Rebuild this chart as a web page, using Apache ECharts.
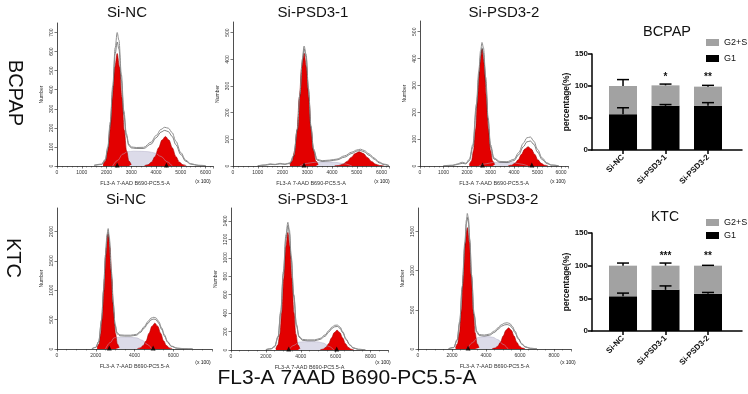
<!DOCTYPE html>
<html><head><meta charset="utf-8">
<script src="https://cdn.jsdelivr.net/npm/echarts@6/dist/echarts.min.js"></script>
<style>html,body{margin:0;padding:0;background:#fff}#c{width:748px;height:394px}</style>
</head><body><div id="c"></div>
<script>
// ---------- labels ----------
const colTitles = ['Si-NC', 'Si-PSD3-1', 'Si-PSD3-2'];
const rowTitles = ['BCPAP', 'KTC'];
const histXName = 'FL3-A 7-AAD B690-PC5.5-A';
const bottomTitle = 'FL3-A 7AAD B690-PC5.5-A';
const barCats = ['Si-NC', 'Si-PSD3-1', 'Si-PSD3-2'];

// ---------- BCPAP Si-NC ----------
const p1G1x = [1860,1960,2050,2145,2240,2335,2430,2525,2620,2715,2810,2905,3000];
const p1G1y = [6,26,80,189,360,519,590,519,360,189,80,26,6];
const p1G2x = [3540,3680,3820,3960,4100,4240,4380,4520,4660,4800,4940,5080,5220];
const p1G2y = [2,7,21,50,95,136,155,136,95,50,21,7,2];
const p1Sx = [2250,2450,2650,2850,3100,3400,3700,3950,4200,4450,4650];
const p1Sy = [0,30,62,75,78,77,75,68,50,22,0];
const p1Ex = [1500,1800,1950,2050,2150,2250,2350,2430,2500,2600,2700,2800,2900,3000,3200,3500,3800,4000,4200,4350,4500,4650,4800,5000,5200,5400,5700,6000];
const p1Ey = [4,10,35,100,230,420,620,700,660,480,290,170,115,100,97,98,125,160,192,203,198,175,130,70,30,12,4,2];
const p1E2y = [3,8,30,90,215,400,590,650,615,450,270,160,108,95,92,92,115,148,178,187,180,155,112,60,25,10,3,1];
const p1Tri = [2430, 4420];

// ---------- BCPAP Si-PSD3-1 ----------
const p2G1x = [2300,2395,2490,2585,2680,2775,2870,2965,3060,3155,3250,3345,3440];
const p2G1y = [5,19,57,135,258,372,423,372,258,135,57,19,5];
const p2G2x = [4110,4275,4440,4605,4770,4935,5100,5265,5430,5595,5760,5925,6090];
const p2G2y = [1,2,7,17,32,47,53,47,32,17,7,2,1];
const p2Sx = [2700,3000,3300,3600,3900,4200,4500,4800];
const p2Sy = [0,10,14,15,15,13,8,0];
const p2Ex = [1000,1300,1500,1700,1900,2100,2300,2450,2600,2700,2800,2870,2950,3050,3150,3250,3400,3600,3900,4200,4500,4800,5000,5150,5300,5500,5700,5900,6100,6300];
const p2Ey = [1,4,8,6,10,7,12,40,140,270,400,450,420,290,150,65,25,20,22,26,38,52,60,63,58,45,30,15,7,2];
const p2E2y = [1,3,6,5,8,6,10,35,135,262,390,440,410,280,142,60,22,17,19,23,33,47,56,58,53,40,26,12,5,1];
const p2Tri = [2870];

// ---------- BCPAP Si-PSD3-2 ----------
const p3G1x = [2100,2190,2280,2370,2460,2550,2640,2730,2820,2910,3000,3090,3180];
const p3G1y = [5,19,59,139,265,383,435,383,265,139,59,19,5];
const p3G2x = [3760,3900,4040,4180,4320,4460,4600,4740,4880,5020,5160,5300,5440];
const p3G2y = [1,3,10,23,44,63,72,63,44,23,10,3,1];
const p3Sx = [2500,2800,3100,3400,3700,4000,4300,4600];
const p3Sy = [0,8,13,14,14,12,7,0];
const p3Ex = [1000,1400,1600,1800,1950,2100,2250,2400,2500,2580,2640,2700,2800,2900,3000,3150,3400,3700,4000,4200,4400,4550,4700,4850,5000,5200,5400,5600,5900];
const p3Ey = [1,3,8,14,10,25,80,230,350,430,460,440,330,180,80,30,17,16,25,50,85,105,108,92,62,30,12,4,1];
const p3E2y = [1,2,6,10,8,20,70,215,330,410,440,420,312,168,72,26,14,13,20,42,72,90,93,80,52,24,9,3,1];
const p3Tri = [2660, 4760];

// ---------- KTC Si-NC ----------
const p4G1x = [2070,2165,2260,2355,2450,2545,2640,2735,2830,2925,3020,3115,3210];
const p4G1y = [22,86,265,627,1195,1725,1960,1725,1195,627,265,86,22];
const p4G2x = [4150,4300,4450,4600,4750,4900,5050,5200,5350,5500,5650,5800,5950];
const p4G2y = [5,19,59,141,268,387,440,387,268,141,59,19,5];
const p4Sx = [2500,2750,2950,3200,3500,3800,4100,4400,4650,4900];
const p4Sy = [0,110,190,200,200,198,190,150,80,0];
const p4Ex = [1800,2000,2150,2300,2400,2500,2580,2640,2700,2800,2900,3000,3100,3250,3500,3800,4100,4300,4500,4700,4850,5000,5100,5250,5400,5550,5700,5900,6200,6600,7000];
const p4Ey = [5,30,130,500,1000,1600,1950,2050,1900,1350,800,420,280,240,235,235,250,300,380,470,525,540,530,470,360,240,130,50,15,5,2];
const p4E2y = [4,26,120,480,970,1560,1900,2000,1850,1310,770,400,260,225,220,220,235,280,355,440,495,510,500,440,335,220,118,45,12,4,1];
const p4Tri = [2700, 4960];

// ---------- KTC Si-PSD3-1 ----------
const p5G1x = [2570,2685,2800,2915,3030,3145,3260,3375,3490,3605,3720,3835,3950];
const p5G1y = [14,56,172,408,778,1122,1275,1122,778,408,172,56,14];
const p5G2x = [5120,5280,5440,5600,5760,5920,6080,6240,6400,6560,6720,6880,7040];
const p5G2y = [2,9,29,69,131,189,215,189,131,69,29,9,2];
const p5Sx = [3300,3600,3900,4200,4600,5000,5300,5600,5900];
const p5Sy = [0,50,85,90,92,88,75,40,0];
const p5Ex = [2000,2300,2500,2700,2850,3000,3150,3260,3350,3450,3600,3750,3900,4100,4400,4800,5100,5400,5600,5800,5950,6100,6250,6400,6600,6800,7000,7300,7700];
const p5Ey = [5,15,40,150,420,850,1250,1385,1300,1020,600,280,150,115,110,110,125,165,210,250,268,270,250,200,120,60,25,8,2];
const p5E2y = [4,12,35,140,400,820,1210,1350,1265,990,580,265,140,105,100,100,115,150,195,235,252,255,236,188,112,55,22,7,2];
const p5Tri = [3310, 6060];

// ---------- KTC Si-PSD3-2 ----------
const p6G1x = [2210,2325,2440,2555,2670,2785,2900,3015,3130,3245,3360,3475,3590];
const p6G1y = [17,68,209,496,946,1364,1550,1364,946,496,209,68,17];
const p6G2x = [4370,4530,4690,4850,5010,5170,5330,5490,5650,5810,5970,6130,6290];
const p6G2y = [3,12,36,86,165,238,270,238,165,86,36,12,3];
const p6Sx = [2900,3200,3500,3800,4100,4400,4700,5000,5300];
const p6Sy = [0,80,145,155,158,150,120,60,0];
const p6Ex = [1800,2100,2300,2450,2600,2750,2850,2900,2960,3050,3150,3300,3450,3600,3900,4200,4500,4700,4900,5100,5250,5400,5550,5700,5900,6100,6300,6600,7000];
const p6Ey = [5,20,120,350,800,1350,1650,1730,1680,1400,950,450,230,185,178,190,230,270,310,330,335,325,290,230,140,70,30,10,2];
const p6E2y = [4,18,110,330,770,1300,1600,1680,1630,1360,920,430,215,172,165,176,212,250,290,308,312,302,268,210,128,62,26,8,2];
const p6Tri = [2950];

// ---------- bar charts (percentage) ----------
const bcG1 = [56, 69, 69];
const bcG2S = [44, 32, 30];
const bcG1Err = [10, 2, 5];
const bcTotErr = [10, 2, 2];
const bcSig = ['', '*', '**'];
const ktG1 = [53, 63, 57];
const ktG2S = [47, 37, 43];
const ktG1Err = [5, 6, 2];
const ktTotErr = [4, 4, 0.5];
const ktSig = ['', '***', '**'];

// ---------- build ----------
const FONT = '"Liberation Sans", Arial, Helvetica, sans-serif';
const zip = (xs, ys) => xs.map((x, i) => [x, ys[i]]);
const plain = v => String(v);

const panels = [
  {g1x:p1G1x,g1y:p1G1y,g2x:p1G2x,g2y:p1G2y,sx:p1Sx,sy:p1Sy,ex:p1Ex,ey:p1Ey,e2y:p1E2y,tri:p1Tri,
   xmax:6300,xint:1000,xmin:5,ymax:750,yint:100,grid:{left:57,top:23,width:156,height:143}},
  {g1x:p2G1x,g1y:p2G1y,g2x:p2G2x,g2y:p2G2y,sx:p2Sx,sy:p2Sy,ex:p2Ex,ey:p2Ey,e2y:p2E2y,tri:p2Tri,
   xmax:6300,xint:1000,xmin:5,ymax:540,yint:100,grid:{left:233,top:22,width:156,height:144}},
  {g1x:p3G1x,g1y:p3G1y,g2x:p3G2x,g2y:p3G2y,sx:p3Sx,sy:p3Sy,ex:p3Ex,ey:p3Ey,e2y:p3E2y,tri:p3Tri,
   xmax:6300,xint:1000,xmin:5,ymax:540,yint:100,grid:{left:420,top:21,width:148,height:145}},
  {g1x:p4G1x,g1y:p4G1y,g2x:p4G2x,g2y:p4G2y,sx:p4Sx,sy:p4Sy,ex:p4Ex,ey:p4Ey,e2y:p4E2y,tri:p4Tri,
   xmax:8000,xint:2000,xmin:4,ymax:2400,yint:500,grid:{left:57,top:208,width:155,height:141}},
  {g1x:p5G1x,g1y:p5G1y,g2x:p5G2x,g2y:p5G2y,sx:p5Sx,sy:p5Sy,ex:p5Ex,ey:p5Ey,e2y:p5E2y,tri:p5Tri,
   xmax:9000,xint:2000,xmin:4,ymax:1540,yint:200,grid:{left:231,top:208,width:157,height:142}},
  {g1x:p6G1x,g1y:p6G1y,g2x:p6G2x,g2y:p6G2y,sx:p6Sx,sy:p6Sy,ex:p6Ex,ey:p6Ey,e2y:p6E2y,tri:p6Tri,
   xmax:9000,xint:2000,xmin:4,ymax:1800,yint:500,grid:{left:418,top:208,width:153,height:141}}
];

const grids = [], xAxes = [], yAxes = [], series = [];
const RED = '#e30000';

panels.forEach((p, i) => {
  grids.push(p.grid);
  xAxes.push({
    gridIndex: i, type: 'value', min: 0, max: p.xmax, interval: p.xint,
    axisLine: {show: true, onZero: false, lineStyle: {color: '#222', width: 0.8}},
    axisTick: {show: true, length: 2.5, lineStyle: {color: '#222', width: 0.6}},
    minorTick: {show: true, splitNumber: p.xmin, length: 1.5, lineStyle: {color: '#333', width: 0.5}},
    axisLabel: {fontSize: 5, color: '#333', margin: 4, showMaxLabel: false, fontFamily: FONT, formatter: plain},
    splitLine: {show: false},
    name: histXName, nameLocation: 'middle', nameGap: 14,
    nameTextStyle: {fontSize: 5.5, color: '#333', fontFamily: FONT}
  });
  yAxes.push({
    gridIndex: i, type: 'value', min: 0, max: p.ymax, interval: p.yint,
    axisLine: {show: true, lineStyle: {color: '#222', width: 0.8}},
    axisTick: {show: true, length: 2.5, lineStyle: {color: '#222', width: 0.6}},
    axisLabel: {fontSize: 5, color: '#333', margin: 3, rotate: 90, showMaxLabel: false, fontFamily: FONT, formatter: plain},
    splitLine: {show: false},
    name: 'Number', nameLocation: 'middle', nameGap: 13,
    nameTextStyle: {fontSize: 5, color: '#333', fontFamily: FONT}
  });
  const base = {xAxisIndex: i, yAxisIndex: i, showSymbol: false, symbol: 'none', silent: true, smooth: 0.35, smoothMonotone: 'x'};
  series.push(Object.assign({type: 'line', data: zip(p.sx, p.sy),
    lineStyle: {color: '#b4b1c8', width: 0.5}, areaStyle: {color: '#dcdbe9', opacity: 1}}, base));
  series.push(Object.assign({type: 'line', data: zip(p.g1x, p.g1y),
    lineStyle: {color: '#a00000', width: 0.6}, areaStyle: {color: RED, opacity: 1}}, base));
  series.push(Object.assign({type: 'line', data: zip(p.g2x, p.g2y),
    lineStyle: {color: '#a00000', width: 0.6}, areaStyle: {color: RED, opacity: 1}}, base));
  series.push(Object.assign({type: 'line', data: zip(p.ex, p.e2y),
    lineStyle: {color: '#333', width: 0.6}}, base));
  series.push(Object.assign({type: 'line', data: zip(p.ex, p.ey),
    lineStyle: {color: '#8e8e8e', width: 1}}, base));
  series.push({type: 'scatter', xAxisIndex: i, yAxisIndex: i, silent: true, clip: false,
    symbol: 'triangle', symbolSize: [5, 5], symbolOffset: [0, -1],
    itemStyle: {color: '#000'}, data: p.tri.map(x => [x, 0]), z: 5});
});

// bar charts
const barSets = [
  {g1: bcG1, g2s: bcG2S, g1e: bcG1Err, te: bcTotErr, sig: bcSig, sigY: 113, grid: {left: 592, top: 54, width: 150, height: 96}},
  {g1: ktG1, g2s: ktG2S, g1e: ktG1Err, te: ktTotErr, sig: ktSig, sigY: 115, grid: {left: 592, top: 233, width: 150, height: 98}}
];
const catPos = [1, 2, 3];
const BAR_W = 28;

const rectItem = (params, api) => {
  const x = api.value(0), lo = api.value(1), hi = api.value(2);
  const p0 = api.coord([x, lo]), p1 = api.coord([x, hi]);
  return {type: 'rect', shape: {x: p0[0] - BAR_W / 2, y: p1[1], width: BAR_W, height: p0[1] - p1[1]},
    style: {fill: api.visual('color')}};
};

barSets.forEach((b, k) => {
  const gi = 6 + k;
  grids.push(b.grid);
  xAxes.push({
    gridIndex: gi, type: 'value', min: 0.27, max: 3.8,
    axisLine: {show: true, onZero: false, lineStyle: {color: '#000', width: 1.5}},
    axisTick: {show: true, customValues: catPos, length: 4, lineStyle: {color: '#000', width: 1.5}},
    axisLabel: {customValues: catPos, rotate: 45, fontSize: 8, fontWeight: 'bold', color: '#111', margin: 6,
      fontFamily: FONT, formatter: v => barCats[Math.round(v) - 1] || ''},
    splitLine: {show: false}
  });
  yAxes.push({
    gridIndex: gi, type: 'value', min: 0, max: 150, interval: 50,
    axisLine: {show: true, lineStyle: {color: '#000', width: 1.5}},
    axisTick: {show: true, length: 4, lineStyle: {color: '#000', width: 1.5}},
    axisLabel: {fontSize: 8, fontWeight: 'bold', color: '#111', margin: 4, fontFamily: FONT},
    splitLine: {show: false},
    name: 'percentage(%)', nameLocation: 'middle', nameGap: 16,
    nameTextStyle: {fontSize: 8.5, fontWeight: 'bold', color: '#111', fontFamily: FONT}
  });
  // stacked bars: G1 from 0, G2+S on top of G1
  series.push({type: 'custom', name: 'G1', xAxisIndex: gi, yAxisIndex: gi, silent: true, z: 3,
    itemStyle: {color: '#000'}, encode: {x: 0, y: [1, 2]},
    data: catPos.map((c, i) => [c, 0, b.g1[i]]), renderItem: rectItem});
  series.push({type: 'custom', name: 'G2+S', xAxisIndex: gi, yAxisIndex: gi, silent: true, z: 3,
    itemStyle: {color: '#a2a2a2'}, encode: {x: 0, y: [1, 2]},
    data: catPos.map((c, i) => [c, b.g1[i], b.g1[i] + b.g2s[i]]), renderItem: rectItem});
  const errData = [];
  catPos.forEach((c, i) => {
    errData.push([c, b.g1[i], b.g1[i] + b.g1e[i]]);
    const tot = b.g1[i] + b.g2s[i];
    errData.push([c, tot, tot + b.te[i]]);
  });
  series.push({type: 'custom', xAxisIndex: gi, yAxisIndex: gi, silent: true, z: 10,
    encode: {x: 0, y: [1, 2]}, data: errData,
    renderItem: (params, api) => {
      const x = api.value(0), lo = api.value(1), hi = api.value(2);
      const p0 = api.coord([x, lo]), p1 = api.coord([x, hi]);
      return {type: 'group', children: [
        {type: 'line', shape: {x1: p0[0], y1: p0[1], x2: p1[0], y2: p1[1]}, style: {stroke: '#000', lineWidth: 1.5}},
        {type: 'line', shape: {x1: p1[0] - 6, y1: p1[1], x2: p1[0] + 6, y2: p1[1]}, style: {stroke: '#000', lineWidth: 1.5}}
      ]};
    }});
  series.push({type: 'custom', xAxisIndex: gi, yAxisIndex: gi, silent: true, z: 10,
    encode: {x: 0, y: 1}, data: catPos.map((c, i) => [c, b.sigY, i]),
    renderItem: (params, api) => {
      const p = api.coord([api.value(0), api.value(1)]);
      return {type: 'text', x: p[0], y: p[1], style: {text: b.sig[api.value(2)], textAlign: 'center',
        textVerticalAlign: 'middle', font: 'bold 10px ' + FONT, fill: '#111'}};
    }});
});

// free texts
const gtext = (text, x, y, size, extra) => Object.assign({type: 'text', x: x, y: y, silent: true,
  style: {text: text, font: size + 'px ' + FONT, fill: '#111', textAlign: 'center', textVerticalAlign: 'middle'}}, extra || {});

const graphics = [
  gtext(colTitles[0], 127, 13, 15), gtext(colTitles[1], 313, 13, 15), gtext(colTitles[2], 504, 13, 15),
  gtext(colTitles[0], 126, 200, 15), gtext(colTitles[1], 313, 200, 15), gtext(colTitles[2], 503, 200, 15),
  gtext(rowTitles[0], 15, 93, 20, {rotation: -Math.PI / 2}),
  gtext(rowTitles[1], 13, 258, 20, {rotation: -Math.PI / 2}),
  gtext(bottomTitle, 347, 378, 21),
  gtext('BCPAP', 667, 32, 14.5), gtext('KTC', 665, 217, 14),
  gtext('(x 100)', 203, 182, 5), gtext('(x 100)', 382, 182, 5), gtext('(x 100)', 558, 182, 5),
  gtext('(x 100)', 203, 363, 5), gtext('(x 100)', 383, 363, 5), gtext('(x 100)', 568, 363, 5)
];

const chart = echarts.init(document.getElementById('c'), null, {renderer: 'canvas'});
chart.setOption({
  animation: false,
  backgroundColor: '#fff',
  grid: grids, xAxis: xAxes, yAxis: yAxes, series: series,
  legend: [
    {data: ['G2+S', 'G1'], orient: 'vertical', left: 706, top: 38, itemWidth: 13, itemHeight: 7, itemGap: 7,
     icon: 'rect', selectedMode: false, padding: 0, textStyle: {fontSize: 9, color: '#111', fontFamily: FONT}},
    {data: ['G2+S', 'G1'], orient: 'vertical', left: 706, top: 218, itemWidth: 13, itemHeight: 7, itemGap: 4,
     icon: 'rect', selectedMode: false, padding: 0, textStyle: {fontSize: 9, color: '#111', fontFamily: FONT}}
  ],
  graphic: graphics
});
</script></body></html>
